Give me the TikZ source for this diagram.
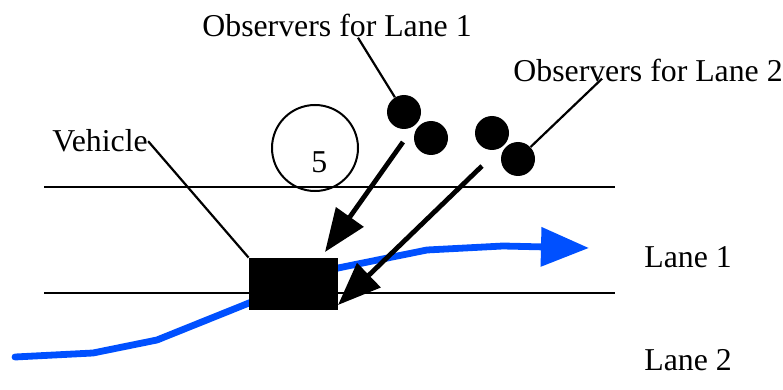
\documentclass[tikz,border=0pt]{standalone}
\usepackage{fontspec}
\setmainfont{Liberation Serif}
\usepackage{tikz}
\usetikzlibrary{arrows.meta,calc}
\definecolor{lanepath}{HTML}{0050FF}
\tikzset{
  lbl/.style={anchor=base west, inner sep=0pt, font=\fontsize{15.9}{18}\selectfont},
  road/.style={line width=1.2pt},
  leader/.style={line width=1.1pt},
  observer/.style={circle, fill=black, minimum size=17pt, inner sep=0pt},
  vehicle/.style={fill=black, minimum width=44.5pt, minimum height=26pt, inner sep=0pt},
  sign/.style={circle, draw, line width=1pt, minimum size=43pt, inner sep=0pt},
  watch/.style={-{Triangle[length=21.5pt,width=16.5pt]}, line width=2.4pt},
  trajectory/.style={-{Triangle[length=24pt,width=19pt]}, draw=lanepath, line width=3.4pt, line join=round, line cap=round},
}

\begin{document}
\begin{tikzpicture}[x=0.5pt,y=-0.5pt]
  \useasboundingbox (0,0) rectangle (783,390);
  % road edges
  \draw[road] (44,187) -- (615,187);
  \draw[road] (44,293) -- (615,293);
  % path of the vehicle
  \draw[trajectory] (15,357) -- (93,353) -- (157,340) -- (249,303) -- (338,268)
    -- (427,250) -- (503,246) -- (589,248);
  \node[vehicle] (veh) at (293.5,284) {};
  \node[sign] (sign) at (315,148) {};
  \node[lbl] (signnum) at (311,173) {5};
  % observers
  \node[observer] (obsA) at (404,112) {};
  \node[observer] (obsB) at (431,138) {};
  \node[observer] (obsC) at (492,133) {};
  \node[observer] (obsD) at (518,159) {};
  % labels
  \node[lbl] (obslbl1) at (202,37) {Observers for Lane 1};
  \node[lbl] (obslbl2) at (513,82) {Observers for Lane 2};
  \node[lbl] (vehlbl) at (52,152) {Vehicle};
  \node[lbl] (lane1) at (644,268) {Lane 1};
  \node[lbl] (lane2) at (644,371) {Lane 2};
  \draw[leader] (vehlbl.east) -- (veh.north west);
  \draw[leader] ($(obslbl1.south west)+(156,0)$) -- (obsA);
  \draw[leader] ($(obslbl2.south west)+(89,-4)$) -- (obsD);
  % observations
  \coordinate (fromA) at (403,142);
  \coordinate (toA) at (325,252);
  \coordinate (fromC) at (482,166);
  \coordinate (toC) at (338,305);
  \draw[watch] (fromA) -- (toA);
  \draw[watch] (fromC) -- (toC);
\end{tikzpicture}
\end{document}
